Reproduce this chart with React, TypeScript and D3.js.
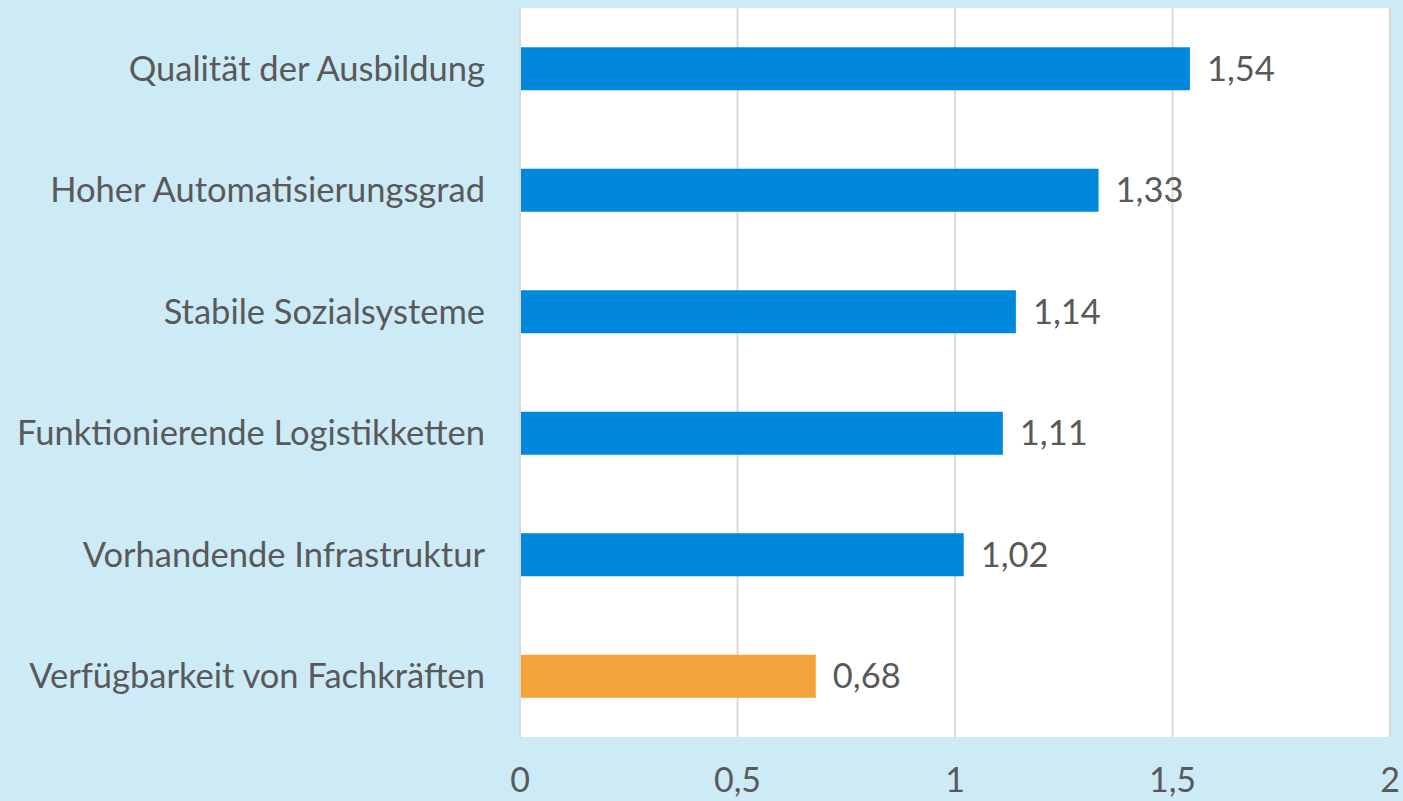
import React from 'react';
import * as d3 from 'd3';

const categories = [
  'Qualität der Ausbildung',
  'Hoher Automatisierungsgrad',
  'Stabile Sozialsysteme',
  'Funktionierende Logistikketten',
  'Vorhandende Infrastruktur',
  'Verfügbarkeit von Fachkräften',
];
const values = [1.54, 1.33, 1.14, 1.11, 1.02, 0.68];
const highlight = [false, false, false, false, false, true];
const ticks = [0, 0.5, 1, 1.5, 2];

const W = 1403;
const H = 801;
const margin = { left: 520, top: 8, right: 13, bottom: 64 };
const font = 'Lato, "Open Sans", sans-serif';
const textColor = '#595959';

const fmt = (v: number) => String(v).replace('.', ',');

export default function App() {
  const x = d3
    .scaleLinear()
    .domain([0, 2])
    .range([margin.left, W - margin.right]);
  const y = d3
    .scaleBand<string>()
    .domain(categories)
    .range([margin.top, H - margin.bottom])
    .paddingInner(0.646)
    .paddingOuter(0.323);

  return (
    <svg
      width={W}
      height={H}
      viewBox={`0 0 ${W} ${H}`}
      style={{ position: 'absolute', left: 0, top: 0, display: 'block' }}
    >
      <rect width={W} height={H} fill="#cdebf7" />
      <rect
        x={margin.left}
        y={margin.top}
        width={W - margin.left - margin.right}
        height={H - margin.top - margin.bottom}
        fill="#ffffff"
      />
      {ticks.map(t => (
        <line
          key={t}
          x1={x(t)}
          x2={x(t)}
          y1={margin.top}
          y2={H - margin.bottom}
          stroke="#d9d9d9"
          strokeWidth={2}
        />
      ))}
      {categories.map((c, i) => (
        <g key={c}>
          <rect
            x={x(0) + 1}
            y={y(c)}
            width={x(values[i]) - x(0) - 1}
            height={y.bandwidth()}
            fill={highlight[i] ? '#f2a33a' : '#0088dc'}
          />
          <text
            x={margin.left - 35}
            y={(y(c) as number) + y.bandwidth() / 2}
            dy="0.35em"
            textAnchor="end"
            fontFamily={font}
            fontSize={34.5}
            fill={textColor}
          >
            {c}
          </text>
          <text
            x={x(values[i]) + 17}
            y={(y(c) as number) + y.bandwidth() / 2}
            dy="0.35em"
            fontFamily={font}
            fontSize={34.5}
            fill={textColor}
          >
            {fmt(values[i])}
          </text>
        </g>
      ))}
      {ticks.map(t => (
        <text
          key={t}
          x={x(t)}
          y={792}
          textAnchor="middle"
          fontFamily={font}
          fontSize={34}
          fill={textColor}
        >
          {fmt(t)}
        </text>
      ))}
    </svg>
  );
}
